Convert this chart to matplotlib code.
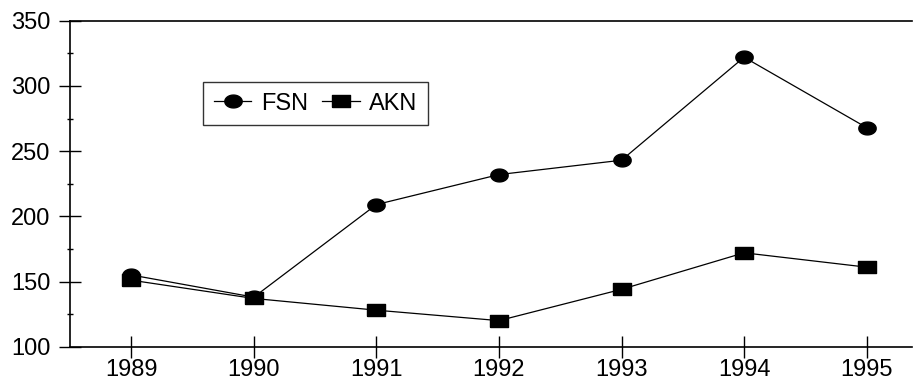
import numpy as np
import matplotlib
matplotlib.use('Agg')
import matplotlib.pyplot as plt
from matplotlib.ticker import MultipleLocator

# ==============================================================================
# data
years = [1989, 1990, 1991, 1992, 1993, 1994, 1995]
fsn = [155, 138, 209, 232, 243, 322, 268]
akn = [151, 137, 128, 120, 144, 172, 161]
yTicks = [100, 150, 200, 250, 300, 350]

# markers are a bit wider than tall in the reference
t = np.linspace(0, 2 * np.pi, 40)
ellipse = list(zip(np.cos(t) * 1.0, np.sin(t) * 0.74))
rect = [(-1, -0.72), (1, -0.72), (1, 0.72), (-1, 0.72), (-1, -0.72)]

plt.rcParams['font.family'] = ['Liberation Sans', 'DejaVu Sans']

fig = plt.figure(figsize=(9.16, 3.81), dpi=100)
W, H = 916., 381.
ax = fig.add_axes([70 / W, (H - 346.7) / H, (912 - 70) / W, (346.7 - 20.7) / H])

ax.plot(years, fsn, color='black', lw=0.9, marker=ellipse, markersize=12.5,
        markerfacecolor='black', markeredgecolor='black', label='FSN')
ax.plot(years, akn, color='black', lw=0.9, marker=rect, markersize=12.5,
        markerfacecolor='black', markeredgecolor='black', label='AKN')

ax.set_xlim(1988.5, 1995.37)
ax.set_ylim(100, 350)
ax.set_xticks(years)
ax.set_xticklabels([str(y) for y in years])
ax.set_yticks(yTicks)
ax.yaxis.set_minor_locator(MultipleLocator(25))

ax.spines['right'].set_visible(False)
for s in ['left', 'bottom', 'top']:
    ax.spines[s].set_linewidth(1.2)
ax.tick_params(axis='both', which='major', direction='inout', length=16,
               width=1.0, labelsize=17, colors='black')
ax.tick_params(axis='y', which='minor', direction='inout', length=5, width=1.0)
ax.tick_params(axis='x', pad=0.5)
ax.tick_params(axis='y', pad=6)

leg = ax.legend(loc='upper left', bbox_to_anchor=(203 / W, (H - 82) / H),
                bbox_transform=fig.transFigure, ncol=2, fontsize=17,
                frameon=True, fancybox=False, handlelength=1.6,
                handletextpad=0.4, columnspacing=0.6, borderpad=0.45,
                borderaxespad=0)
leg.get_frame().set_edgecolor('black')
leg.get_frame().set_linewidth(1.0)

plt.savefig('out.png', dpi=100)
